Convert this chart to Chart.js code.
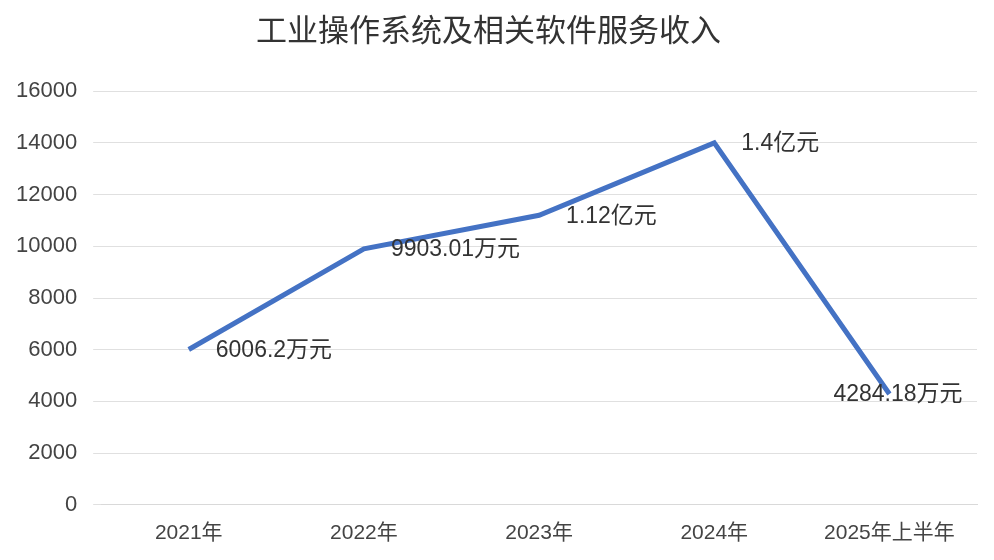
<!DOCTYPE html>
<html><head><meta charset="utf-8">
<script src="https://cdn.jsdelivr.net/npm/chart.js@4"></script>
<style>html,body{margin:0;padding:0;background:#fff}#w{width:994px;height:560px}</style>
</head><body><div id="w"><canvas id="c"></canvas></div>
<script>
const categories = ["2021年","2022年","2023年","2024年","2025年上半年"];
const values = [6006.2, 9903.01, 11200, 14000, 4284.18];
const labels = ["6006.2万元","9903.01万元","1.12亿元","1.4亿元","4284.18万元"];
const yTicks = [0,2000,4000,6000,8000,10000,12000,14000,16000];
const FONT = "'Liberation Sans','Noto Sans CJK SC',sans-serif";
const labelPlugin = {
  id:'lbl',
  afterDatasetsDraw(chart){
    const ctx = chart.ctx, meta = chart.getDatasetMeta(0);
    ctx.save();
    ctx.font = "23px "+FONT; ctx.fillStyle = "#333"; ctx.textBaseline = "middle";
    meta.data.forEach((p,i)=>{
      const last = i===meta.data.length-1;
      ctx.textAlign = "left";
      ctx.fillText(labels[i], last ? p.x-56 : p.x+27, p.y+1);
    });
    ctx.restore();
  }
};
new Chart(document.getElementById('c'),{
  type:'line',
  data:{labels:categories,datasets:[{data:values,borderColor:'#4472C4',borderWidth:5,pointRadius:0,tension:0,fill:false}]},
  options:{
    responsive:true,maintainAspectRatio:false,animation:false,
    layout:{padding:{left:0,right:17,top:14,bottom:6}},
    plugins:{legend:{display:false},tooltip:{enabled:false},
      title:{display:true,text:'工业操作系统及相关软件服务收入',color:'#333',font:{family:FONT,size:31,weight:'normal'},padding:{top:0,bottom:40}}},
    scales:{
      x:{offset:true,grid:{display:false},border:{color:'#d9d9d9'},
         ticks:{color:'#444',font:{family:FONT,size:21},padding:8}},
      y:{min:0,max:16000,afterBuildTicks(s){s.ticks=yTicks.map(v=>({value:v}));},
         grid:{color:'#e0e0e0'},border:{display:false},
         ticks:{color:'#444',font:{family:FONT,size:22},padding:16,callback:v=>String(v)}}
    }
  },
  plugins:[labelPlugin]
});
</script></body></html>
